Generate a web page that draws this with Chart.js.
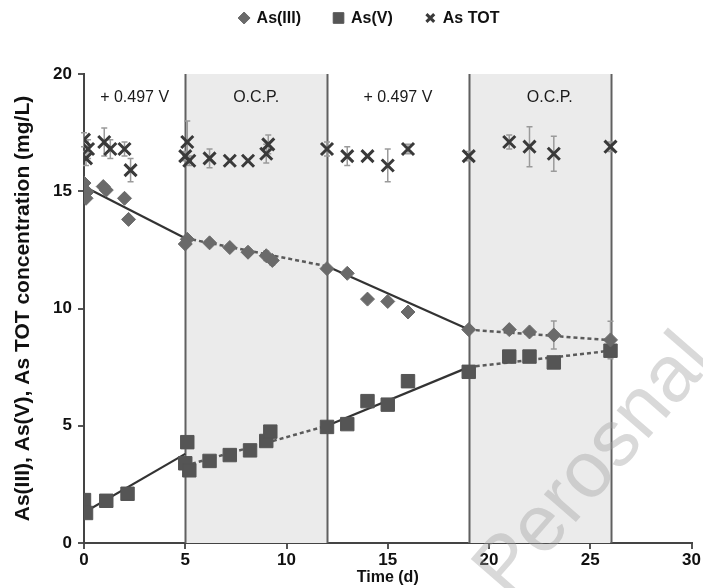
<!DOCTYPE html>
<html>
<head>
<meta charset="utf-8">
<script src="https://cdn.jsdelivr.net/npm/chart.js@4.4.0/dist/chart.umd.min.js"></script>
<style>
  html, body { margin: 0; padding: 0; background: #fff; }
  #wrap { width: 703px; height: 588px; position: relative; }
</style>
</head>
<body>
<div id="wrap"><canvas id="asChart"></canvas></div>
<script>
// As(III) samples: time (d), concentration (mg/L), std dev
const as3Time = [0, 0.15, 0.1, 0.95, 1.1, 2.0, 2.2, 5.1, 5.0, 6.2, 7.2, 8.1, 9.0, 9.3, 12, 13, 14, 15, 16, 19, 21, 22, 23.2, 26];
const as3Conc = [15.35, 14.97, 14.7, 15.2, 15.05, 14.7, 13.8, 12.95, 12.75, 12.8, 12.6, 12.4, 12.25, 12.05, 11.7, 11.5, 10.4, 10.3, 9.85, 9.1, 9.1, 9.0, 8.87, 8.66];
const as3Err  = [0, 0, 0, 0, 0, 0, 0, 0, 0, 0, 0, 0, 0.2, 0.2, 0, 0, 0, 0, 0, 0, 0, 0, 0.6, 0.8];

// As(V) samples
const as5Time = [0, 0.1, 1.1, 2.15, 5.1, 5.0, 5.2, 6.2, 7.2, 8.2, 9.0, 9.2, 12, 13, 14, 15, 16, 19, 21, 22, 23.2, 26];
const as5Conc = [1.83, 1.28, 1.8, 2.1, 4.3, 3.4, 3.1, 3.5, 3.75, 3.95, 4.35, 4.75, 4.95, 5.07, 6.05, 5.9, 6.9, 7.3, 7.95, 7.95, 7.7, 8.2];

// total As samples
const totTime = [0, 0.2, 0.1, 1.0, 1.3, 2.0, 2.3, 5.1, 5.0, 5.2, 6.2, 7.2, 8.1, 9.1, 9.0, 12, 13, 14, 15, 16, 19, 21, 22, 23.2, 26];
const totConc = [17.2, 16.8, 16.4, 17.1, 16.8, 16.8, 15.9, 17.1, 16.5, 16.3, 16.4, 16.3, 16.3, 17.0, 16.6, 16.8, 16.5, 16.5, 16.1, 16.8, 16.5, 17.1, 16.9, 16.6, 16.9];
const totErr  = [0.3, 0.4, 0.3, 0.6, 0.4, 0.3, 0.5, 0.9, 0.2, 0.2, 0.4, 0, 0, 0.4, 0.4, 0.3, 0.4, 0, 0.7, 0.2, 0.2, 0.3, 0.85, 0.75, 0.2];

// phase boundaries (d) and linear trends per phase
const phaseBreaks = [0, 5, 12, 19, 26];
const phaseNames = ['+ 0.497 V', 'O.C.P.', '+ 0.497 V', 'O.C.P.'];
const phaseLabelT = [2.5, 8.5, 15.5, 23];
const phaseLabelY = 19.0;
const as3FitStart = [15.2, 13.0, 11.8, 9.1];
const as3FitEnd   = [13.0, 11.8, 9.1, 8.65];
const as5FitStart = [1.3, 3.3, 5.0, 7.5];
const as5FitEnd   = [3.8, 5.0, 7.5, 8.2];

const xTicks = [0, 5, 10, 15, 20, 25, 30];
const yTicks = [0, 5, 10, 15, 20];

const FONT = '"Liberation Sans", Arial, sans-serif';
const pts = (xs, ys) => xs.map((x, i) => ({ x, y: ys[i] }));

const fitSets = [];
phaseNames.forEach((name, i) => {
  const ocp = name === 'O.C.P.';
  const t0 = phaseBreaks[i], t1 = phaseBreaks[i + 1];
  [[as3FitStart, as3FitEnd], [as5FitStart, as5FitEnd]].forEach(([s, e]) => {
    fitSets.push({
      label: '',
      data: [{ x: t0, y: s[i] }, { x: t1, y: e[i] }],
      showLine: true,
      pointRadius: 0,
      borderColor: ocp ? '#5a5a5a' : '#333',
      borderWidth: ocp ? 2.5 : 2.2,
      borderDash: ocp ? [4, 3] : [],
      order: 2,
      isFit: true
    });
  });
});

const dataSets = [
  { label: 'As(III)', data: pts(as3Time, as3Conc), errors: as3Err, pointStyle: 'rectRot', pointRadius: 7,
    backgroundColor: '#6a6a6a', borderColor: '#6a6a6a', borderWidth: 1, order: 1 },
  { label: 'As(V)', data: pts(as5Time, as5Conc), pointStyle: 'rect', pointRadius: 9.5,
    backgroundColor: '#555', borderColor: '#555', borderWidth: 1, order: 1 },
  { label: 'As TOT', data: pts(totTime, totConc), errors: totErr, pointStyle: 'crossRot', pointRadius: 8.5,
    backgroundColor: '#3a3a3a', borderColor: '#3a3a3a', borderWidth: 3, order: 0 },
  ...fitSets
];

// shaded O.C.P. periods, phase separators, captions and error bars
const phasePlugin = {
  id: 'phases',
  beforeDatasetsDraw(chart) {
    const { ctx, chartArea, scales: { x, y } } = chart;
    ctx.save();
    phaseNames.forEach((name, i) => {
      if (name !== 'O.C.P.') return;
      const l = x.getPixelForValue(phaseBreaks[i]);
      const r = x.getPixelForValue(phaseBreaks[i + 1]);
      ctx.fillStyle = '#ebebeb';
      ctx.fillRect(l, chartArea.top, r - l, chartArea.bottom - chartArea.top);
    });
    phaseBreaks.slice(1).forEach(t => {
      const px = Math.round(x.getPixelForValue(t)) + 0.5;
      ctx.strokeStyle = '#606060';
      ctx.lineWidth = 2;
      ctx.beginPath();
      ctx.moveTo(px, chartArea.top);
      ctx.lineTo(px, chartArea.bottom);
      ctx.stroke();
    });
    ctx.fillStyle = '#1a1a1a';
    ctx.font = '16px ' + FONT;
    ctx.textAlign = 'center';
    ctx.textBaseline = 'middle';
    phaseNames.forEach((name, i) => {
      ctx.fillText(name, x.getPixelForValue(phaseLabelT[i]), y.getPixelForValue(phaseLabelY));
    });

    ctx.strokeStyle = '#9a9a9a';
    ctx.lineWidth = 1.5;
    chart.data.datasets.forEach(ds => {
      if (!ds.errors) return;
      ds.data.forEach((p, i) => {
        const e = ds.errors[i];
        if (!e) return;
        const px = x.getPixelForValue(p.x);
        const top = y.getPixelForValue(p.y + e);
        const bot = y.getPixelForValue(p.y - e);
        ctx.beginPath();
        ctx.moveTo(px, top); ctx.lineTo(px, bot);
        ctx.moveTo(px - 3, top); ctx.lineTo(px + 3, top);
        ctx.moveTo(px - 3, bot); ctx.lineTo(px + 3, bot);
        ctx.stroke();
      });
    });
    ctx.restore();
  }
};

// legend row across the top
const legendPlugin = {
  id: 'topLegend',
  afterDraw(chart) {
    const { ctx } = chart;
    const items = chart.data.datasets.filter(ds => !ds.isFit);
    const sizes = { rectRot: 6, rect: 7.5, crossRot: 5.5 };
    ctx.save();
    ctx.font = 'bold 16px ' + FONT;
    const gapMark = 7, gapItem = 32, box = 11;
    const widths = items.map(ds => box + gapMark + ctx.measureText(ds.label).width);
    const total = widths.reduce((a, b) => a + b, 0) + gapItem * (items.length - 1);
    let cx = 369 - total / 2;
    const cy = 18;
    items.forEach((ds, i) => {
      const cross = ds.pointStyle === 'crossRot';
      ctx.fillStyle = ds.backgroundColor;
      ctx.strokeStyle = ds.borderColor;
      ctx.lineWidth = cross ? 3 : 1;
      Chart.helpers.drawPoint(ctx, {
        pointStyle: ds.pointStyle, radius: sizes[ds.pointStyle], rotation: 0,
        borderWidth: cross ? 3 : 1
      }, cx + box / 2, cy);
      ctx.fillStyle = '#111';
      ctx.textAlign = 'left';
      ctx.textBaseline = 'middle';
      ctx.fillText(ds.label, cx + box + gapMark, cy + 1);
      cx += widths[i] + gapItem;
    });
    ctx.restore();
  }
};

// faint diagonal watermark
const markPlugin = {
  id: 'mark',
  afterDraw(chart) {
    const { ctx } = chart;
    ctx.save();
    ctx.translate(508, 600);
    ctx.rotate(-49 * Math.PI / 180);
    ctx.font = '80px ' + FONT;
    ctx.fillStyle = 'rgba(160,160,160,0.4)';
    ctx.textBaseline = 'alphabetic';
    ctx.fillText('Perosnal', 0, 0);
    ctx.restore();
  }
};

const tickFont = { family: FONT, size: 17, weight: 'bold' };

new Chart(document.getElementById('asChart').getContext('2d'), {
  type: 'scatter',
  data: { datasets: dataSets },
  plugins: [phasePlugin, legendPlugin, markPlugin],
  options: {
    responsive: true,
    maintainAspectRatio: false,
    animation: false,
    layout: { padding: { top: 74, left: 0, right: 7, bottom: 0 } },
    plugins: {
      legend: { display: false },
      tooltip: { enabled: false }
    },
    scales: {
      x: {
        type: 'linear', min: 0, max: 30,
        afterBuildTicks: s => { s.ticks = xTicks.map(v => ({ value: v })); },
        afterFit: s => { s.height = 45; },
        grid: { drawOnChartArea: false, drawTicks: true, tickLength: 6, color: '#555', lineWidth: 2 },
        border: { display: true, color: '#444', width: 2 },
        ticks: { font: tickFont, color: '#111', padding: 1 },
        title: { display: true, text: 'Time (d)', color: '#111', padding: { top: 0, bottom: 1 },
          font: { family: FONT, size: 16, weight: 'bold' } }
      },
      y: {
        min: 0, max: 20,
        afterBuildTicks: s => { s.ticks = yTicks.map(v => ({ value: v })); },
        afterFit: s => { s.width = 84; },
        grid: { drawOnChartArea: false, drawTicks: true, tickLength: 6, color: '#555', lineWidth: 2 },
        border: { display: true, color: '#444', width: 2 },
        ticks: { font: tickFont, color: '#111', padding: 6 },
        title: { display: true, text: 'As(III), As(V), As TOT concentration (mg/L)', color: '#111',
          padding: { top: 11, bottom: 0 },
          font: { family: FONT, size: 21, weight: 'bold' } }
      }
    }
  }
});
</script>
</body>
</html>
